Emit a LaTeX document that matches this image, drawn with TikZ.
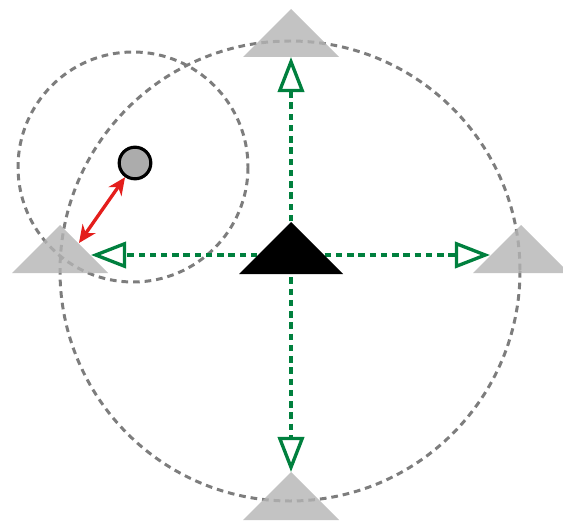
\documentclass[tikz,border=0pt]{standalone}
\usetikzlibrary{arrows.meta}
\definecolor{ringgray}{RGB}{125,125,125}
\definecolor{anchorgray}{RGB}{180,180,180}
\definecolor{probegreen}{RGB}{0,128,62}
\definecolor{linkred}{RGB}{228,30,28}
\definecolor{dotgray}{RGB}{172,172,172}
\tikzset{
  ring/.style={draw=ringgray,line width=1.7pt,dash pattern=on 3.8pt off 2.8pt},
  probe/.style={draw=probegreen,line width=1.9pt,dash pattern=on 3.6pt off 2.8pt,
    -{Triangle[open,length=20pt,width=15pt]}},
  link/.style={draw=linkred,line width=1.9pt,
    {Stealth[length=10pt,width=9pt]}-{Stealth[length=10pt,width=9pt]}},
  target/.style={circle,draw=black,line width=1.8pt,fill=dotgray,inner sep=0pt,minimum size=18pt}
}

\begin{document}
\begin{tikzpicture}[x=0.02cm,y=-0.02cm]
  \useasboundingbox (0,0) rectangle (563,523);
  \clip (0,0) rectangle (563,523);
  % coverage rings
  \draw[ring] (290,271) circle (230);
  \draw[ring] (133,167) circle (115);
  % neighbour anchors and probes
  \coordinate (hub) at (291,255);
  \foreach \n/\x/\y/\tx/\ty in {north/291/9/291/57, west/60/225/91/255,
      east/521/225/490/255, south/291/472/291/472}
  {
    \coordinate (\n) at (\x,\y);
    \coordinate (\n-tip) at (\tx,\ty);
    \fill[anchorgray,fill opacity=0.8] (\n) -- ++(-48,48) -- ++(96,0) -- cycle;
    \draw[probe] (hub) -- (\n-tip);
  }
  % the moving node
  \coordinate (hub-top) at (291,222);
  \fill[black] (hub-top) -- ++(52,52) -- ++(-104,0) -- cycle;
  \node[target] (tgt) at (135,163) {};
  \coordinate (west-hit) at (79,243);
  \draw[link] (tgt) -- (west-hit);
\end{tikzpicture}
\end{document}
